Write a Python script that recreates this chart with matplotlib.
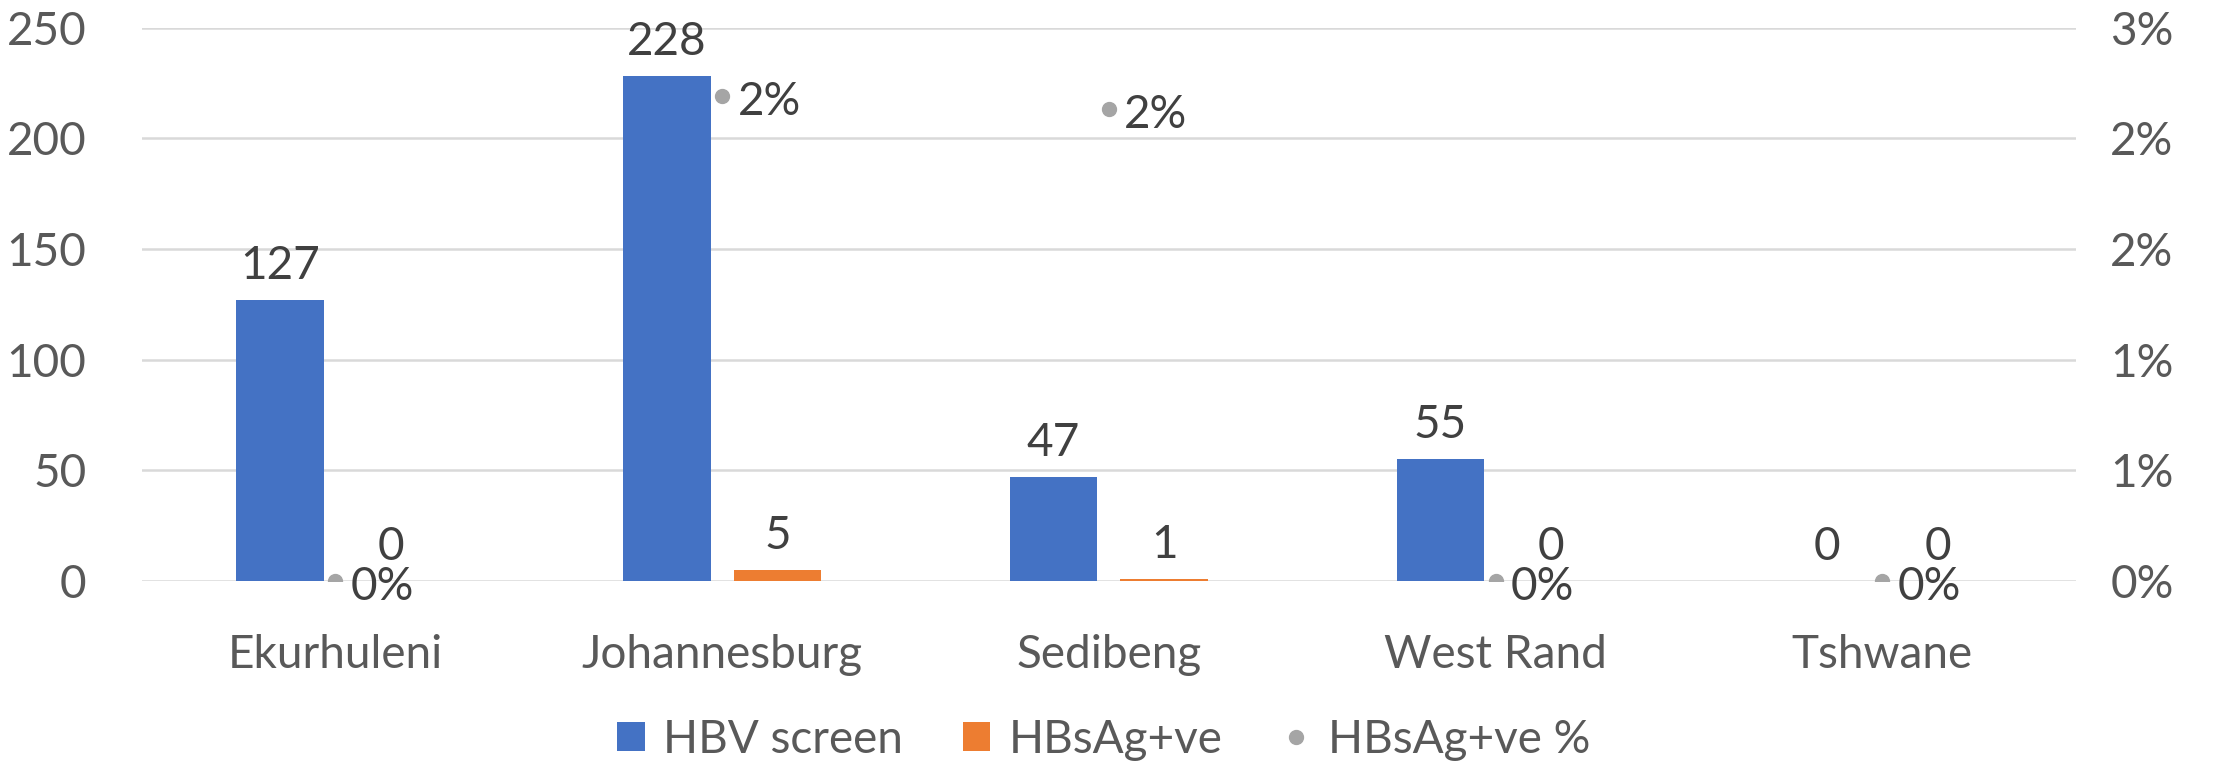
import math
import matplotlib
matplotlib.use("Agg")
import matplotlib.pyplot as plt
from matplotlib.lines import Line2D
from matplotlib.patches import Patch
import numpy as np

categories = ["Ekurhuleni", "Johannesburg", "Sedibeng", "West Rand", "Tshwane"]
hbv_screen = [127, 228, 47, 55, 0]
hbsag_pos = [0, 5, 1, 0, 0]
hbsag_pct = [0.0, 0.0219, 0.0213, 0.0, 0.0]

left_ticks = [0, 50, 100, 150, 200, 250]
right_ticks = [0, 0.005, 0.010, 0.015, 0.020, 0.025]

BLUE = "#4472C4"
ORANGE = "#ED7D31"
GREY = "#A5A5A5"
TXT = "#404040"
TICK = "#595959"
GRID = "#D9D9D9"

plt.rcParams['font.family'] = ['Lato', 'DejaVu Sans']
FS = 33

fig = plt.figure(figsize=(22.21, 7.64), dpi=100)
ax = fig.add_axes([0.0640, 0.2395, 0.8705, 0.7245])
ax2 = ax.twinx()

x = np.arange(len(categories))
w = 0.226
off = 0.143

ax.bar(x - off, hbv_screen, w, color=BLUE, zorder=2)
ax.bar(x + off, hbsag_pos, w, color=ORANGE, zorder=2)

for xi, v in zip(x - off, hbv_screen):
    ax.annotate(f"{v}", (xi, v), xytext=(0, 15), textcoords="offset points",
                ha="center", va="baseline", fontsize=FS, color=TXT)
for xi, v in zip(x + off, hbsag_pos):
    ax.annotate(f"{v}", (xi, v), xytext=(0, 15), textcoords="offset points",
                ha="center", va="baseline", fontsize=FS, color=TXT)

ax.set_ylim(0, 250)
ax.set_xlim(-0.5, len(categories) - 0.5)
ax.set_yticks(left_ticks)
ax.set_yticklabels([str(t) for t in left_ticks])
ax.yaxis.grid(True, color=GRID, linewidth=1.8, zorder=0)
ax.set_axisbelow(True)
ax.set_xticks(x)
ax.set_xticklabels(categories)
ax.tick_params(axis="x", length=0, pad=38, labelsize=FS, labelcolor=TICK)
ax.tick_params(axis="y", length=0, pad=40, labelsize=FS, labelcolor=TICK)
for s in ax.spines.values():
    s.set_visible(False)

ax2.plot(x, hbsag_pct, linestyle="none", marker="o", markersize=10,
         color=GREY, zorder=3)
for xi, v in zip(x, hbsag_pct):
    ax2.annotate(f"{math.floor(v*100+0.5)}%", (xi, v), xytext=(11, -4),
                 textcoords="offset points", ha="left", va="center",
                 fontsize=FS, color=TXT)
ax2.set_ylim(0, 0.025)
ax2.set_yticks(right_ticks)
ax2.set_yticklabels([f"{math.floor(t*100+0.5)}%" for t in right_ticks])
ax2.tick_params(axis="y", length=0, pad=25, labelsize=FS, labelcolor=TICK)
for s in ax2.spines.values():
    s.set_visible(False)

handles = [
    Patch(facecolor=BLUE, label="HBV screen"),
    Patch(facecolor=ORANGE, label="HBsAg+ve"),
    Line2D([], [], linestyle="none", marker="o", markersize=10, color=GREY,
           label="HBsAg+ve %"),
]
leg = fig.legend(handles=handles, loc="center", bbox_to_anchor=(0.497, 0.032),
                 ncol=3, frameon=False, fontsize=FS, handlelength=0.6,
                 handleheight=0.6, handletextpad=0.4, columnspacing=1.3)
for t in leg.get_texts():
    t.set_color(TICK)

fig.savefig("out.png", dpi=100)
